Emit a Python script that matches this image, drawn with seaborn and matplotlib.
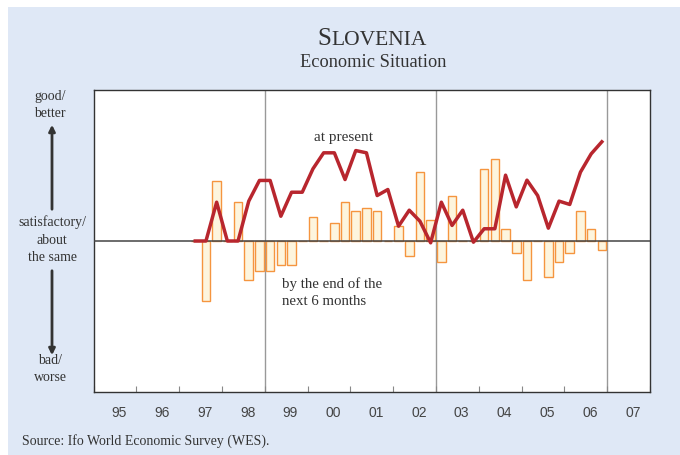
import matplotlib
matplotlib.use("Agg")
import matplotlib.pyplot as plt
from matplotlib.patches import Rectangle
import numpy as np
import pandas as pd
import seaborn as sns

# QUARTERS 1997Q2 .. 2006Q4
quarters = pd.period_range("1997Q2", "2006Q4", freq="Q")

# ECONOMIC SITUATION AT PRESENT (line)
present = [0, 0, 25.7,
           0, 0, 26.4, 40.1,
           40.1, 16.4, 32.3, 32.3,
           47.8, 58.4, 58.4, 40.7,
           59.9, 58.4, 30.1, 34.1,
           9.8, 20.4, 13.1, -1.2,
           25.7, 10.3, 20.4, -0.8,
           8.1, 8.1, 43.6, 22.6,
           40.3, 30.1, 8.5, 26.4,
           24.2, 45.6, 57.7, 65.7]

# EXPECTATIONS FOR THE NEXT 6 MONTHS (bars)
expect = [0, -40, 40,
          0, 26, -26, -20,
          -20, -16, -16, 0,
          16, 0, 12, 26,
          20, 22, 20, 0,
          10, -10, 46, 14,
          -14, 30, 0, 0,
          48, 54, 8, -8,
          -26, 0, -24, -14,
          -8, 20, 8, -6]

year_labels = ["95", "96", "97", "98", "99", "00", "01", "02", "03", "04", "05", "06", "07"]

df = pd.DataFrame({
    "t": [p.year + (p.quarter - 0.5) / 4 for p in quarters],
    "present": present,
    "expect": expect,
})

serif = "Liberation Serif"
sans = "Liberation Sans"
bg = "#dfe8f6"
txt = "#333333"

fig = plt.figure(figsize=(6.8, 4.55), dpi=100)
fig.patch.set_facecolor("white")
fig.patches.append(Rectangle((8 / 680, 0), 1, 1 - 7 / 455, transform=fig.transFigure,
                             facecolor=bg, edgecolor="none", zorder=-10))

ax = fig.add_axes([93.6 / 680, 1 - 392 / 455, (650 - 93.6) / 680, (392 - 90) / 455])
ax.set_facecolor("white")

# BARS: expectations
sns.barplot(data=df, x="t", y="expect", native_scale=True, width=0.8,
            color="#fdf5de", edgecolor="#f5953f", linewidth=1.0, saturation=1,
            ax=ax, zorder=2)

# LINE: present situation
sns.lineplot(data=df, x="t", y="present", color="#b8262e", linewidth=2.5, ax=ax, zorder=4)

ax.axhline(0, color="#444444", lw=1.1, zorder=3)
for xv in [1999, 2003, 2007]:
    ax.axvline(xv, color="#999999", lw=1, zorder=1)

ax.set_xlim(1995, 2008)
ax.set_ylim(-100, 100)
ax.set_xlabel("")
ax.set_ylabel("")
ax.set_yticks([])
ax.set_xticks(np.arange(1995, 2009))
ax.set_xticklabels([])
ax.tick_params(axis="x", which="major", direction="in", length=4, color="#888888")
ax.set_xticks(np.arange(1995, 2008) + 0.6, minor=True)
ax.set_xticklabels(year_labels, minor=True, fontfamily=sans, fontsize=10, color="#444444")
ax.tick_params(axis="x", which="minor", length=0, pad=10)
for s in ax.spines.values():
    s.set_color("#333333")
    s.set_linewidth(1.0)

# TITLE (small caps)
fig.text(331 / 680, 1 - 45 / 455, "S", family=serif, fontsize=18, color=txt, ha="right", va="baseline")
fig.text(331 / 680, 1 - 45 / 455, "LOVENIA", family=serif, fontsize=15.5, color=txt, ha="left", va="baseline")
fig.text(373 / 680, 1 - 67 / 455, "Economic Situation", family=serif, fontsize=13.2, color=txt,
         ha="center", va="baseline")

# SCALE LABELS LEFT
fig.text(50 / 680, 1 - 105 / 455, "good/\nbetter", family=serif, fontsize=10, color=txt,
         ha="center", va="center", linespacing=1.45)
fig.text(52 / 680, 1 - 240 / 455, "satisfactory/\nabout\nthe same", family=serif, fontsize=10,
         color=txt, ha="center", va="center", linespacing=1.45)
fig.text(50 / 680, 1 - 369 / 455, "bad/\nworse", family=serif, fontsize=10, color=txt,
         ha="center", va="center", linespacing=1.45)
arrow = dict(arrowstyle="-|>", color="#333333", lw=2, mutation_scale=9)
ax.annotate("", xy=(52 / 680, 1 - 122 / 455), xytext=(52 / 680, 1 - 212 / 455),
            xycoords="figure fraction", arrowprops=arrow, annotation_clip=False)
ax.annotate("", xy=(52 / 680, 1 - 358 / 455), xytext=(52 / 680, 1 - 268 / 455),
            xycoords="figure fraction", arrowprops=arrow, annotation_clip=False)

# ANNOTATIONS
fig.text(344 / 680, 1 - 137 / 455, "at present", family=serif, fontsize=11, color=txt,
         ha="center", va="center")
fig.text(282 / 680, 1 - 293 / 455, "by the end of the\nnext 6 months", family=serif, fontsize=10.7,
         color=txt, ha="left", va="center", linespacing=1.4)

fig.text(22 / 680, 1 - 441 / 455, "Source: Ifo World Economic Survey (WES).", family=serif,
         fontsize=10, color=txt, ha="left", va="center")

fig.savefig("out.png", dpi=100, facecolor=fig.get_facecolor())
